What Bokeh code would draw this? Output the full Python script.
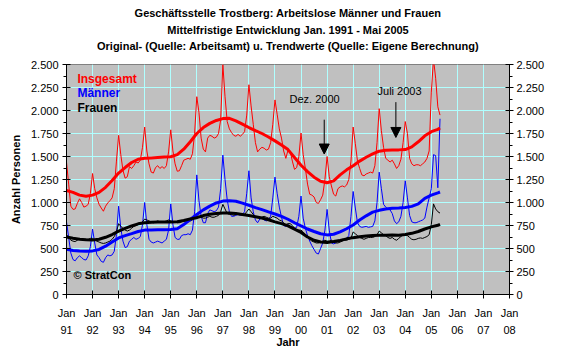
import numpy as np
from bokeh.plotting import figure
from bokeh.models import LinearAxis, FixedTicker, Range1d, Label, Arrow, NormalHead, Title
from bokeh.embed import file_html
from bokeh.resources import INLINE

FONT = "Liberation Sans"

# ---------------- data ----------------
start_year = 1991
title_lines = [
    "Geschäftsstelle Trostberg: Arbeitslose Männer und Frauen",
    "Mittelfristige Entwicklung Jan. 1991 - Mai 2005",
    "Original- (Quelle: Arbeitsamt) u. Trendwerte (Quelle: Eigene Berechnung)",
]
# monthly values Jan 1991 ... May 2005
insgesamt = [
    1440, 1200, 960, 925, 930, 990, 1040, 1000, 950, 960, 980, 1100,
    1315, 1150, 1050, 980, 940, 905, 960, 995, 1020, 1050, 1150, 1450,
    1730, 1520, 1350, 1265, 1280, 1390, 1370, 1400, 1440, 1430, 1460, 1600,
    1820, 1560, 1420, 1330, 1320, 1380, 1400, 1370, 1390, 1370, 1400, 1550,
    1790, 1560, 1420, 1340, 1345, 1400, 1460, 1470, 1480, 1470, 1530, 1750,
    2150, 1980, 1700, 1580, 1550, 1700, 1730, 1720, 1700, 1710, 1750, 1900,
    2500, 2150, 1880, 1800, 1760, 1730, 1720, 1740, 1720, 1740, 1770, 1950,
    2280, 2050, 1850, 1650, 1550, 1580, 1600, 1590, 1570, 1580, 1650, 1850,
    2115, 1960, 1800, 1700, 1560, 1480, 1570, 1560, 1450, 1360, 1380, 1500,
    1755, 1520, 1370, 1200, 1090, 1080, 1060, 1000, 990, 1030, 1080, 1250,
    1500, 1280, 1180, 1090, 1070, 1150, 1170, 1180, 1170, 1190, 1250, 1450,
    1820, 1640, 1450, 1370, 1300, 1290, 1310, 1320, 1330, 1320, 1400, 1650,
    2020, 1780, 1600, 1480, 1460, 1440, 1460, 1420, 1370, 1400, 1470, 1650,
    1880, 1750, 1480, 1420, 1400, 1410, 1410, 1400, 1420, 1440, 1480, 1560,
    2200, 2560, 2350, 2040, 1950,
]
maenner = [
    790, 620, 450, 380, 366, 400, 420, 400, 380, 375, 420, 520,
    710, 560, 430, 400, 360, 350, 400, 430, 420, 430, 470, 650,
    960, 720, 580, 510, 520, 580, 600, 620, 600, 610, 630, 760,
    1000, 760, 600, 570, 560, 570, 580, 570, 560, 580, 600, 700,
    985, 760, 620, 600, 600, 640, 650, 650, 660, 650, 700, 900,
    1300, 1020, 850, 780, 780, 880, 920, 910, 900, 910, 950, 1150,
    1515, 1250, 1030, 900, 850, 850, 860, 870, 860, 870, 900, 1100,
    1345, 1050, 900, 810, 780, 820, 830, 810, 800, 810, 850, 1050,
    1276, 1100, 950, 840, 750, 740, 760, 740, 730, 720, 730, 850,
    1070, 830, 720, 640, 580, 530, 490, 450, 440, 500, 560, 700,
    925, 700, 560, 550, 560, 590, 590, 600, 590, 610, 640, 850,
    1120, 940, 780, 740, 730, 735, 740, 730, 735, 740, 800, 1000,
    1330, 1150, 980, 950, 930, 920, 880, 800, 770, 790, 850, 1000,
    1236, 1050, 860, 790, 780, 780, 790, 800, 810, 830, 950, 1050,
    1150, 1520, 1510, 1160, 1910,
]
frauen = [
    650, 620, 590, 580, 575, 590, 610, 600, 590, 600, 600, 610,
    610, 590, 580, 570, 560, 555, 560, 570, 580, 600, 630, 680,
    770, 740, 720, 700, 690, 700, 720, 740, 750, 760, 770, 790,
    820, 810, 800, 790, 780, 790, 800, 790, 790, 790, 800, 810,
    800, 790, 790, 780, 780, 790, 800, 800, 800, 800, 810, 830,
    850, 850, 840, 830, 830, 840, 850, 840, 840, 850, 860, 900,
    980, 930, 880, 870, 870, 860, 870, 880, 870, 860, 870, 900,
    930, 900, 870, 850, 840, 830, 840, 850, 840, 830, 830, 850,
    840, 830, 810, 800, 780, 760, 770, 770, 750, 720, 700, 700,
    700, 680, 650, 620, 600, 580, 570, 560, 560, 570, 580, 590,
    580, 580, 590, 570, 560, 560, 570, 580, 590, 590, 600, 610,
    680, 660, 640, 620, 610, 600, 610, 620, 620, 620, 630, 650,
    690, 670, 650, 640, 620, 610, 620, 600, 590, 610, 630, 650,
    650, 640, 620, 600, 595, 600, 610, 615, 610, 620, 630, 650,
    760, 985, 930, 900, 885,
]
# quarterly trend values Jan 1991 ... Apr 2005, plus May 2005
trend_insgesamt = [
    1130, 1110, 1080, 1068, 1080, 1110, 1165, 1240, 1320, 1380, 1435, 1470,
    1480, 1485, 1490, 1495, 1497, 1520, 1580, 1660, 1750, 1815, 1860, 1892,
    1912, 1915, 1888, 1852, 1815, 1782, 1750, 1712, 1670, 1625, 1575, 1490,
    1405, 1335, 1275, 1230, 1215, 1235, 1300, 1355, 1400, 1450, 1492, 1528,
    1558, 1568, 1570, 1572, 1575, 1605, 1660, 1725, 1770, 1795, 1810,
]
trend_maenner = [
    492, 478, 472, 470, 474, 490, 525, 570, 615, 640, 662, 685,
    700, 702, 703, 704, 706, 715, 760, 815, 870, 920, 960, 995,
    1015, 1020, 1013, 993, 970, 945, 922, 898, 875, 850, 818, 780,
    745, 712, 685, 660, 648, 655, 680, 715, 755, 810, 855, 895,
    915, 930, 937, 940, 945, 958, 985, 1045, 1080, 1105, 1114,
]
trend_frauen = [
    625, 612, 600, 594, 593, 600, 622, 652, 688, 718, 745, 768,
    780, 786, 787, 787, 787, 790, 805, 822, 835, 858, 872, 880,
    886, 885, 880, 870, 858, 846, 832, 812, 790, 770, 745, 710,
    675, 625, 590, 570, 565, 575, 588, 605, 618, 628, 635, 640,
    643, 645, 646, 644, 652, 665, 685, 712, 735, 752, 762,
]
year_ticks = list(range(1991, 2009))
x_labels = ["Jan\n" + str(y)[2:] for y in year_ticks]
y_ticks = [0, 250, 500, 750, 1000, 1250, 1500, 1750, 2000, 2250, 2500]
y_labels = ["0", "250", "500", "750", "1.000", "1.250", "1.500", "1.750",
            "2.000", "2.250", "2.500"]
y_minor = [125, 375, 625, 875, 1125, 1375, 1625, 1875, 2125, 2375]

x_month = [start_year + i / 12 for i in range(len(insgesamt))]
x_trend = [start_year + i * 0.25 for i in range(len(trend_insgesamt) - 1)] + [2005 + 4 / 12]

# ---------------- figure ----------------
p = figure(width=553, height=350, output_backend="svg", toolbar_location=None,
           x_range=Range1d(1991, 2008), y_range=Range1d(0, 2500),
           min_border_left=66, min_border_right=44, min_border_top=64,
           min_border_bottom=54)
p.background_fill_color = "#C0C0C0"
p.border_fill_color = "white"
p.outline_line_color = "#808080"

def style_title(t, standoff):
    t.align = "center"
    t.text_font = FONT
    t.text_font_size = "11px"
    t.text_font_style = "bold"
    t.text_color = "black"
    t.standoff = standoff

# p.title is the outermost line; added titles stack from the frame outward
p.title.text = title_lines[0]
style_title(p.title, 4)
spacer = Title(text=" ", text_font_size="1px", standoff=9)
p.add_layout(spacer, "above")
t3 = Title(text=title_lines[2])
style_title(t3, 2)
p.add_layout(t3, "above")
t2 = Title(text=title_lines[1])
style_title(t2, 2)
p.add_layout(t2, "above")

yt = FixedTicker(ticks=y_ticks, minor_ticks=y_minor)
xt = FixedTicker(ticks=year_ticks)

def style_axis(ax):
    ax.axis_line_color = "black"
    ax.major_tick_line_color = "black"
    ax.minor_tick_line_color = "black"
    ax.major_tick_in = 4
    ax.major_tick_out = 4
    ax.minor_tick_in = 0
    ax.minor_tick_out = 3
    ax.major_label_text_font = FONT
    ax.major_label_text_font_size = "11px"
    ax.major_label_text_color = "black"
    ax.axis_label_text_font = FONT
    ax.axis_label_text_font_size = "11px"
    ax.axis_label_text_font_style = "bold"
    ax.axis_label_text_color = "black"

xa = p.xaxis[0]
xa.ticker = xt
xa.major_label_overrides = dict(zip(year_ticks, x_labels))
style_axis(xa)
xa.minor_tick_line_color = None
xa.major_label_standoff = 8
xa.major_label_text_line_height = 1.45
xa.axis_label = "Jahr"
xa.axis_label_standoff = -3

ya = p.yaxis[0]
ya.ticker = yt
ya.major_label_overrides = dict(zip(y_ticks, y_labels))
style_axis(ya)
ya.major_label_standoff = 4
ya.axis_label = "Anzahl Personen"
ya.axis_label_standoff = 6

ra = LinearAxis(ticker=yt, major_label_overrides=dict(zip(y_ticks, y_labels)))
style_axis(ra)
ra.major_label_standoff = 3
p.add_layout(ra, "right")

p.xgrid.ticker = xt
p.ygrid.ticker = yt
p.xgrid.grid_line_color = "#B0FFFF"
p.ygrid.grid_line_color = "#B0FFFF"

# thin original values
p.line(x_month, insgesamt, line_color="#FF0000", line_width=1)
p.line(x_month, maenner, line_color="#0000FF", line_width=1)
p.line(x_month, frauen, line_color="black", line_width=1)
# thick trend values
p.line(x_trend, trend_insgesamt, line_color="#FF0000", line_width=3)
p.line(x_trend, trend_maenner, line_color="#0000FF", line_width=3)
p.line(x_trend, trend_frauen, line_color="black", line_width=3)

for txt, col, yv in [("Insgesamt", "#FF0000", 2346), ("Männer", "#0000FF", 2185),
                     ("Frauen", "black", 2023)]:
    p.add_layout(Label(x=1991.42, y=yv, text=txt, text_color=col, text_font=FONT,
                       text_font_size="12px", text_font_style="bold",
                       text_baseline="middle"))

p.add_layout(Label(x=1991.27, y=212, text="© StratCon", text_color="black",
                   text_font=FONT, text_font_size="11px", text_font_style="bold",
                   text_baseline="middle"))

p.add_layout(Label(x=2000.52, y=2127, text="Dez. 2000", text_color="black",
                   text_font=FONT, text_font_size="11px", text_align="center",
                   text_baseline="middle"))
p.add_layout(Label(x=2003.78, y=2217, text="Juli 2003", text_color="black",
                   text_font=FONT, text_font_size="11px", text_align="center",
                   text_baseline="middle"))
p.add_layout(Arrow(end=NormalHead(size=10, fill_color="black", line_color="black"),
                   x_start=2000.89, y_start=1900, x_end=2000.89, y_end=1527,
                   line_color="black", line_width=1))
p.add_layout(Arrow(end=NormalHead(size=10, fill_color="black", line_color="black"),
                   x_start=2003.64, y_start=2091, x_end=2003.64, y_end=1707,
                   line_color="black", line_width=1))

open("out.html", "w").write(file_html(p, INLINE))
